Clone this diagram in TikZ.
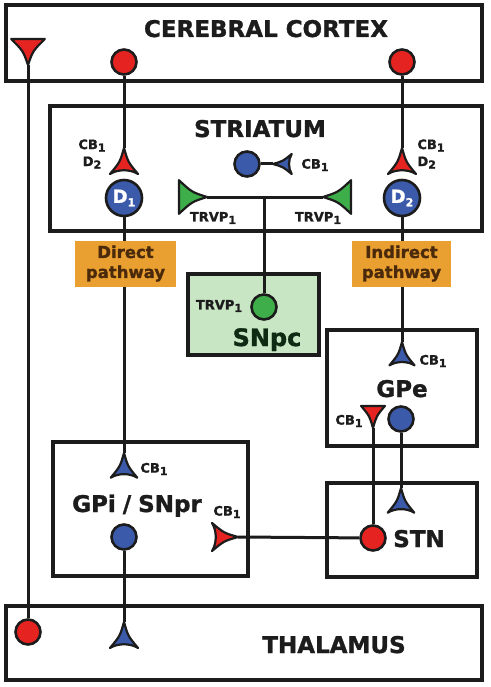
\documentclass[tikz,border=0pt]{standalone}
\usepackage{fontspec}
\setmainfont{DejaVu Sans}[BoldFeatures={FakeBold=1.3}]
\usetikzlibrary{backgrounds}
\definecolor{synred}{HTML}{E52421}
\definecolor{synblue}{HTML}{3B5AAA}
\definecolor{syngreen}{HTML}{3DAE49}
\definecolor{pathorange}{HTML}{E9A030}
\definecolor{pathbrown}{HTML}{4B2A0C}
\definecolor{snpcfill}{HTML}{C8E6C4}
\definecolor{snpctext}{HTML}{0E2A12}
\definecolor{ink}{HTML}{1C1C1C}
% lowered index digit
\newcommand{\lo}[1]{\raisebox{-0.35ex}{\fontsize{11}{11}\selectfont #1}}
\tikzset{
  area/.style={line width=3.2pt,draw=ink},
  wire/.style={line width=3pt,draw=ink},
  cell/.style={circle,draw=ink,line width=2.6pt,minimum size=25pt,inner sep=0pt},
  bigcell/.style={cell,fill=synblue,minimum size=36pt,text=white,
    font=\fontsize{18}{18}\selectfont\bfseries},
  region/.style={font=\fontsize{23}{27}\selectfont\bfseries,anchor=base,inner sep=0pt,text=ink},
  tag/.style={font=\fontsize{13}{17}\selectfont\bfseries,inner sep=0pt,align=center,text=ink},
  pathbox/.style={fill=pathorange,text=pathbrown,minimum width=101pt,minimum height=46pt,
    inner sep=0pt,align=center,font=\fontsize{16.5}{20}\selectfont\bfseries},
  pics/recv/.style={code={
    \filldraw[fill=#1,draw=ink,line width=2.2pt,line join=round]
      (0,0) .. controls (-4,14) .. (-14,26)
      .. controls (-6,21) and (6,21) .. (14,26)
      .. controls (4,14) .. (0,0) -- cycle;}},
  pics/send/.style={code={
    \filldraw[fill=#1,draw=ink,line width=2.2pt,line join=round]
      (0,0) .. controls (-4,14) .. (-14,26) -- (14,26)
      .. controls (4,14) .. (0,0) -- cycle;}}
}
\begin{document}
\begin{tikzpicture}[x=1pt,y=-1pt]
\useasboundingbox (0,0) rectangle (490,687);

% synapse tips
\coordinate (ctxTip) at (28,65);
\coordinate (strLtip) at (124,148);
\coordinate (strRtip) at (402,148);
\coordinate (cbTip) at (273,164);
\coordinate (trvLtip) at (207,197);
\coordinate (trvRtip) at (323,197);
\coordinate (trvJoin) at (264,197);
\coordinate (gpeInTip) at (402,342);
\coordinate (gpeOutTip) at (373,428);
\coordinate (stnInTip) at (401,488);
\coordinate (gpiInTip) at (124,453);
\coordinate (gpiRedTip) at (238,537);
\coordinate (thalInTip) at (124,622);

% cells
\node[cell,fill=synred] (ctxL) at (124,62) {};
\node[cell,fill=synred] (ctxR) at (402,62) {};
\node[bigcell] (dOne) at (124,198) {D\lo1};
\node[bigcell] (dTwo) at (402,198) {D\lo2};
\node[cell,fill=synblue] (cbCell) at (247,164) {};
\node[cell,fill=syngreen] (snpcCell) at (264,307) {};
\node[cell,fill=synblue] (gpeCell) at (401,419) {};
\node[cell,fill=synred] (stnCell) at (373,538) {};
\node[cell,fill=synblue] (gpiCell) at (124,537) {};
\node[cell,fill=synred] (thalCell) at (28,632) {};

\begin{scope}[on background layer]
% regions
\draw[area] (6,5) rectangle (482,81);
\draw[area] (50,106) rectangle (482,231);
\draw[area,fill=snpcfill] (188,274) rectangle (319,355);
\draw[area] (327,330) rectangle (477,446);
\draw[area] (327,483) rectangle (477,577);
\draw[area] (53,442) rectangle (248,576);
\draw[area] (6,606) rectangle (482,680);
% wires
\draw[wire] (ctxL) -- (strLtip);
\draw[wire] (ctxR) -- (strRtip);
\draw[wire] (dOne) -- (gpiInTip);
\draw[wire] (dTwo) -- (gpeInTip);
\draw[wire] (cbCell) -- (cbTip);
\draw[wire] (trvLtip) -- (trvRtip);
\draw[wire] (trvJoin) -- (snpcCell);
\draw[wire] (gpeOutTip) -- (stnCell);
\draw[wire] (gpeCell) -- (stnInTip);
\draw[wire] (stnCell) -- (gpiRedTip);
\draw[wire] (gpiCell) -- (thalInTip);
\draw[wire] (ctxTip) -- (thalCell);
\end{scope}

% pathway labels
\node[pathbox] (direct) at (125.5,263.5) {Direct\\pathway};
\node[pathbox,minimum width=99pt] (indirect) at (401.5,263.5) {Indirect\\pathway};

% synapses
\pic[rotate=180,xscale=1.2] at (ctxTip) {send=synred};
\pic at (strLtip) {recv=synred};
\pic at (strRtip) {recv=synred};
\pic[rotate=90,scale=0.72] at (cbTip) {recv=synblue};
\pic[rotate=-90,xscale=1.2,yscale=1.08] at (trvLtip) {send=syngreen};
\pic[rotate=90,xscale=1.2,yscale=1.08] at (trvRtip) {send=syngreen};
\pic[scale=0.9] at (gpeInTip) {recv=synblue};
\pic[rotate=180,scale=0.85] at (gpeOutTip) {send=synred};
\pic[scale=0.95] at (stnInTip) {recv=synblue};
\pic[scale=0.95] at (gpiInTip) {recv=synblue};
\pic[rotate=-90] at (gpiRedTip) {recv=synred};
\pic at (thalInTip) {recv=synblue};

% region names
\node[region] (cortex) at (266,37) {CEREBRAL CORTEX};
\node[region] (striatum) at (260,137) {STRIATUM};
\node[region,text=snpctext,font=\fontsize{24}{28}\selectfont\bfseries] (snpc) at (267,346) {SNpc};
\node[region] (gpe) at (402,397) {GPe};
\node[region] (stn) at (419,547) {STN};
\node[region] (gpi) at (137,512) {GPi\kern7pt/\kern7pt SNpr};
\node[region] (thalamus) at (334,653) {THALAMUS};

% receptor tags
\node[tag] (tagStrL) at (92,154) {CB\lo1\\D\lo2};
\node[tag,align=left] (tagStrR) at (431,154) {CB\lo1\\D\lo2};
\node[tag] (tagCb) at (315,165) {CB\lo1};
\node[tag] (tagTrvL) at (213,218) {TRVP\lo1};
\node[tag] (tagTrvR) at (318,218) {TRVP\lo1};
\node[tag] (tagSnpc) at (219,306) {TRVP\lo1};
\node[tag] (tagGpeIn) at (433,361) {CB\lo1};
\node[tag] (tagGpeOut) at (349,421) {CB\lo1};
\node[tag] (tagGpiIn) at (154,469) {CB\lo1};
\node[tag] (tagGpiRed) at (227,512) {CB\lo1};
\end{tikzpicture}
\end{document}
